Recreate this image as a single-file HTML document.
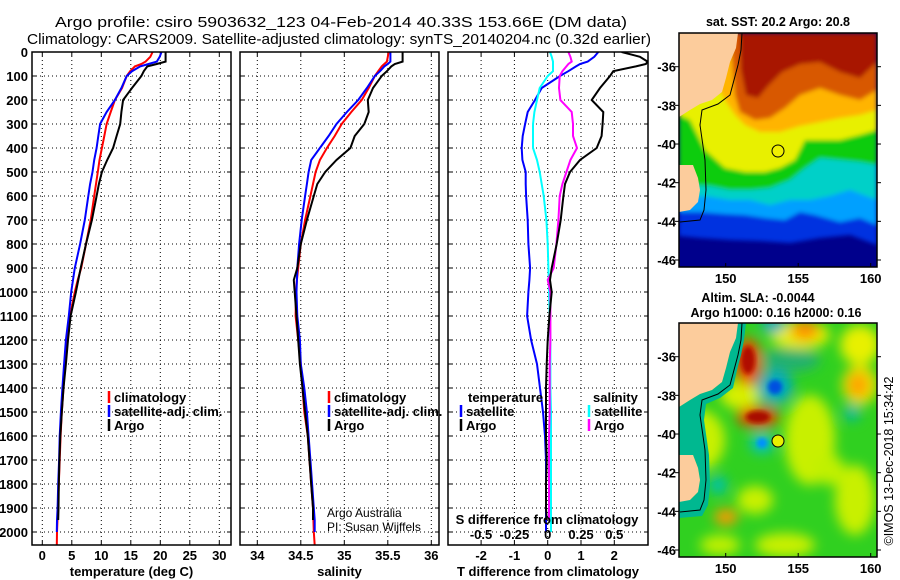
<!DOCTYPE html>
<html><head><meta charset="utf-8"><style>
html,body{margin:0;padding:0;background:#fff;}
svg{display:block;font-family:"Liberation Sans",sans-serif;}
.tk{font-size:13px;font-weight:bold;}
</style></head><body>
<svg id="fig" width="900" height="580" viewBox="0 0 900 580" xmlns="http://www.w3.org/2000/svg">
<defs>
<clipPath id="c1"><rect x="32" y="52" width="199" height="493"/></clipPath>
<clipPath id="c2"><rect x="240" y="52" width="199" height="493"/></clipPath>
<clipPath id="c3"><rect x="448" y="52" width="200" height="493"/></clipPath>
<clipPath id="m1"><rect x="679" y="33" width="198" height="234"/></clipPath>
<clipPath id="m2"><rect x="679" y="323" width="198" height="234"/></clipPath>
<filter id="bl" x="-50%" y="-50%" width="200%" height="200%"><feGaussianBlur stdDeviation="6"/></filter>
<filter id="bl2" x="-20%" y="-20%" width="140%" height="140%"><feGaussianBlur stdDeviation="2"/></filter>
</defs>
<text x="55" y="27" font-size="14.5" textLength="572" lengthAdjust="spacingAndGlyphs">Argo profile: csiro 5903632_123 04-Feb-2014 40.33S 153.66E (DM data)</text>
<text x="27" y="44" font-size="14.5" textLength="624" lengthAdjust="spacingAndGlyphs">Climatology: CARS2009. Satellite-adjusted climatology: synTS_20140204.nc (0.32d earlier)</text>

<!-- Map 1 SST -->
<g>
<text x="778" y="26" font-size="12.5" font-weight="bold" text-anchor="middle">sat. SST: 20.2 Argo: 20.8</text>
<g clip-path="url(#m1)">
<rect x="679" y="33" width="198" height="234" fill="#00008c"/>
<g filter="url(#bl2)">
<polygon fill="#0030e0" points="679,33 877,33 877,245 850,235 820,238 790,243 760,241 730,240 700,238 679,236"/>
<polygon fill="#00a0ff" points="679,33 877,33 877,225 860,218 840,222 815,215 800,212 785,220 765,218 745,215 725,214 700,212 679,212"/>
<polygon fill="#00d0c8" points="679,33 877,33 877,200 850,190 830,196 810,200 790,200 770,205 750,200 730,200 705,196 679,198"/>
<polygon fill="#10cc10" points="679,33 877,33 877,165 860,162 840,160 820,158 805,168 790,180 770,188 750,190 730,190 710,186 690,185 679,180"/>
<polygon fill="#e8f000" points="679,33 877,33 877,130 860,135 840,140 820,140 805,140 795,160 780,168 765,172 745,172 725,168 705,150 690,120 679,115"/>
<polygon fill="#ffb400" points="690,33 877,33 877,110 860,115 840,118 820,122 800,126 780,132 760,132 745,125 735,115 725,100"/>
<polygon fill="#d85800" points="730,33 877,33 877,90 860,100 840,95 820,88 800,95 785,108 770,118 755,120 740,112 735,95"/>
<polygon fill="#a81400" points="740,33 877,33 877,62 860,78 840,72 820,62 800,64 782,72 768,86 758,98 746,95 741,70"/>
</g>
<polygon fill="#fccc9c" points="679,33 738,33 736,48 730,62 726,78 722,92 712,100 700,104 690,110 679,117"/>
<polygon fill="#fccc9c" points="679,165 693,165 698,178 700,190 698,202 690,210 679,212"/>
<polyline fill="none" stroke="#000" stroke-width="1" points="742,33 741,50 738,65 734,80 730,95 718,104 702,110 700,125 705,160 706,190 704,210 700,220 680,222"/>
<circle cx="778" cy="151" r="6" fill="#f0f000" stroke="#000" stroke-width="1"/>
</g>
<rect x="679" y="33" width="198" height="234" fill="none" stroke="#000" stroke-width="1.5"/>
</g>

<!-- Map 2 SLA -->
<g>
<text x="758" y="302" font-size="12.5" font-weight="bold" text-anchor="middle">Altim. SLA: -0.0044</text>
<text x="776" y="317" font-size="12.5" font-weight="bold" text-anchor="middle">Argo h1000: 0.16 h2000: 0.16</text>
<g clip-path="url(#m2)">
<rect x="679" y="323" width="198" height="234" fill="#30d020"/>
<g filter="url(#bl)">
<ellipse cx="800" cy="335" rx="30" ry="14" fill="#e8f000"/>
<ellipse cx="860" cy="345" rx="20" ry="20" fill="#e8f000"/>
<ellipse cx="860" cy="385" rx="18" ry="20" fill="#e8e000"/>
<ellipse cx="810" cy="440" rx="25" ry="45" fill="#c8f000"/>
<ellipse cx="700" cy="440" rx="25" ry="30" fill="#c8f000"/>
<ellipse cx="755" cy="500" rx="18" ry="14" fill="#c8f000"/>
<ellipse cx="855" cy="500" rx="20" ry="35" fill="#c8f000"/>
<ellipse cx="785" cy="545" rx="30" ry="12" fill="#c8f000"/>
<ellipse cx="740" cy="395" rx="20" ry="14" fill="#d8f000"/>
<ellipse cx="830" cy="470" rx="15" ry="15" fill="#c0f000"/>
<ellipse cx="720" cy="545" rx="20" ry="10" fill="#c0f000"/>
<ellipse cx="805" cy="330" rx="14" ry="10" fill="#ff9000"/>
<ellipse cx="858" cy="385" rx="10" ry="12" fill="#ffa000"/>
<ellipse cx="726" cy="517" rx="12" ry="8" fill="#ff9800"/>
<ellipse cx="748" cy="362" rx="14" ry="24" fill="#e85000"/>
<ellipse cx="758" cy="417" rx="22" ry="11" fill="#e05000"/>
<ellipse cx="775" cy="387" rx="18" ry="17" fill="#00a8c0"/>
<ellipse cx="773" cy="325" rx="12" ry="8" fill="#00a8c8"/>
<ellipse cx="762" cy="443" rx="12" ry="10" fill="#00c0c8"/>
<ellipse cx="718" cy="485" rx="9" ry="9" fill="#00c0b0"/>
<ellipse cx="852" cy="413" rx="8" ry="8" fill="#00b8a8"/>
<ellipse cx="790" cy="360" rx="30" ry="12" fill="#20b070"/>
</g>
<ellipse cx="748" cy="360" rx="7" ry="14" fill="#b01000" filter="url(#bl2)"/>
<ellipse cx="758" cy="417" rx="12" ry="6" fill="#a80c00" filter="url(#bl2)"/>
<ellipse cx="775" cy="387" rx="7" ry="7" fill="#0050e0" filter="url(#bl2)"/>
<ellipse cx="762" cy="443" rx="5" ry="5" fill="#0090ff" filter="url(#bl2)"/>
<polygon fill="#00b890" points="736,323 746,323 744,340 741,355 737,370 733,388 720,398 706,404 704,420 709,455 710,485 708,505 702,516 679,518 679,500 690,500 698,492 700,480 698,468 693,455 679,455 679,407 690,400 700,394 712,390 722,382 726,368 730,352"/>
<polygon fill="#fccc9c" points="679,323 738,323 736,338 730,352 726,368 722,382 712,390 700,394 690,400 679,407"/>
<polygon fill="#fccc9c" points="679,455 693,455 698,468 700,480 698,492 690,500 679,502"/>
<polyline fill="none" stroke="#000" stroke-width="1" points="742,323 741,340 738,355 734,370 730,385 718,394 702,400 700,415 705,450 706,480 704,500 700,510 680,512"/>
<circle cx="778" cy="441" r="6" fill="#e8f000" stroke="#000" stroke-width="1"/>
</g>
<rect x="679" y="323" width="198" height="234" fill="none" stroke="#000" stroke-width="1.5"/>
</g>
<text transform="translate(893,461) rotate(-90)" font-size="12.5" text-anchor="middle">©IMOS 13-Dec-2018 15:34:42</text>

<g id="charts"></g>
</svg>
<script>
const depths = [0,20,40,50,60,80,100,150,200,250,300,350,400,450,500,550,600,700,800,900,950,1000,1100,1200,1300,1400,1500,1600,1700,1800,1900,1950,2000,2055];
const tempArgo = [20.9,20.9,20.9,19.4,17.8,17.2,16.8,15.2,13.7,13.4,13.2,12.6,12.0,11.0,10.1,9.6,9.2,8.4,7.4,6.5,6.1,5.7,4.8,4.35,4.0,3.6,3.3,3.05,2.9,2.8,2.75,2.7,null,null];
const tempClim = [18.7,18.3,17.5,16.8,15.7,14.9,14.3,13.5,12.3,11.6,10.9,10.5,10.1,9.7,9.4,9.1,8.8,8.2,7.4,6.6,6.0,5.5,4.7,4.1,3.85,3.6,3.3,3.1,2.95,2.8,2.65,2.58,2.5,2.45];
const tempSat = [20.2,19.9,19.4,18.0,16.6,15.2,14.3,13.4,12.3,10.9,9.8,9.5,9.2,8.8,8.5,8.1,7.8,7.2,6.4,5.5,5.2,4.9,4.5,4.0,3.7,3.4,3.15,2.95,2.85,2.7,2.6,2.5,2.45,null];
const salArgo = [35.67,35.67,35.67,35.58,35.54,35.49,35.43,35.33,35.27,35.28,35.23,35.12,35.07,34.91,34.78,34.69,34.65,34.57,34.50,34.46,34.42,34.43,34.45,34.47,34.49,34.52,34.55,34.58,34.6,34.62,34.64,34.64,null,null];
const salClim = [35.51,35.5,35.49,35.46,35.43,35.39,35.35,35.28,35.2,35.08,34.97,34.89,34.8,34.72,34.67,34.64,34.61,34.55,34.5,34.47,34.455,34.445,34.44,34.47,34.5,34.52,34.54,34.58,34.6,34.62,34.64,34.645,34.65,34.66];
const salSat = [35.53,35.53,35.53,35.5,35.46,35.41,35.35,35.26,35.16,35.03,34.91,34.82,34.72,34.62,34.59,34.57,34.55,34.51,34.48,34.46,34.455,34.45,34.46,34.49,34.5,34.54,34.57,34.59,34.61,34.63,34.65,34.66,34.66,null];
const tDiffArgo = [2.22,2.77,3.0,2.95,2.65,1.97,1.87,1.57,1.32,1.67,1.65,1.62,1.47,0.97,0.67,0.52,0.47,0.39,0.27,0.12,0.07,0.12,0.05,0.0,-0.03,-0.05,-0.05,-0.05,-0.03,-0.05,-0.05,-0.03,null,null];
const tDiffSat = [1.52,1.4,1.2,0.97,0.85,0.62,0.37,-0.18,-0.38,-0.6,-0.68,-0.75,-0.78,-0.76,-0.66,-0.66,-0.65,-0.6,-0.58,-0.53,-0.55,-0.58,-0.62,-0.5,-0.32,-0.23,-0.14,-0.08,-0.05,-0.05,-0.05,-0.05,-0.05,null];
const sDiffSat = [0.017,0.03,0.04,0.04,0.04,0.04,0,-0.06,-0.08,-0.1,-0.11,-0.11,-0.11,-0.08,-0.06,-0.045,-0.03,-0.01,0,0.005,0.008,0.01,0.015,0.02,0.02,0.02,0.025,0.025,0.025,0.025,0.025,0.025,0.025,null];
const sDiffArgo = [0.155,0.17,0.18,0.155,0.14,0.11,0.09,0.085,0.095,0.18,0.19,0.19,0.22,0.17,0.14,0.11,0.09,0.08,0.065,0.045,0.0,0.02,0.02,0.02,0.015,0.015,0.015,0.01,0.01,0.01,0.01,0.01,null,null];
const depthTicks = [0,100,200,300,400,500,600,700,800,900,1000,1100,1200,1300,1400,1500,1600,1700,1800,1900,2000];
const tempTicks = [0,5,10,15,20,25,30];
const salTicks = [34,34.5,35,35.5,36];
const tDiffTicks = [-2,-1,0,1,2];
const sDiffTicks = [-0.5,-0.25,0,0.25,0.5];
const sDiffLabels = ["-0.5","-0.25","0","0.25","0.5"];

const NS = "http://www.w3.org/2000/svg";
const root = document.getElementById('charts');
const yD = d => 52 + d * 0.24;
const xT = t => 42.3 + t * 5.9;
const xS = s => 257.3 + (s - 34) * 87;
const xTd = v => 547.7 + v * 33.3;
const xSd = v => 547.7 + v * 133.3;
function mk(tag, attrs, parent) {
  const e = document.createElementNS(NS, tag);
  for (const k in attrs) e.setAttribute(k, attrs[k]);
  (parent || root).appendChild(e);
  return e;
}
function panel(name, x0, x1, ticks, xf, labels, xlabel, clip, showY) {
  const g = mk('g', {});
  
  
  depthTicks.forEach(d => {
    if (d > 0) {
      const l = mk('line', {x1: x0, x2: x1, y1: yD(d), y2: yD(d), stroke: '#000', 'stroke-width': 1, 'stroke-dasharray': '1,3'}, g);
      
      
    }
    mk('line', {x1: x0, x2: x0 + 4, y1: yD(d), y2: yD(d), stroke: '#000'}, g);
    mk('line', {x1: x1 - 4, x2: x1, y1: yD(d), y2: yD(d), stroke: '#000'}, g);
    if (showY) {
      const t = mk('text', {x: 28, y: yD(d) + 5, 'text-anchor': 'end', class: 'tk'}, g);
      t.textContent = d;
      
      
    }
  });
  ticks.forEach((v, i) => {
    const x = xf(v);
    const l = mk('line', {x1: x, x2: x, y1: 52, y2: 545, stroke: '#000', 'stroke-width': 1, 'stroke-dasharray': '1,3'}, g);
    
    
    mk('line', {x1: x, x2: x, y1: 541, y2: 545, stroke: '#000'}, g);
    mk('line', {x1: x, x2: x, y1: 52, y2: 56, stroke: '#000'}, g);
    const t = mk('text', {x: x, y: 560, 'text-anchor': 'middle', class: 'tk'}, g);
    t.textContent = labels ? labels[i] : v;
    
    
  });
  const xl = mk('text', {x: (x0 + x1) / 2, y: 576, 'text-anchor': 'middle', class: 'tk'}, g);
  xl.textContent = xlabel;
  
  
  const lines = mk('g', {'clip-path': 'url(#' + clip + ')'}, g);
  const fr = mk('rect', {x: x0, y: 52, width: x1 - x0, height: 493, fill: 'none', stroke: '#000', 'stroke-width': 1.5}, g);
  
  
  return lines;
}
function series(parent, vals, xf, color, name) {
  const pts = [];
  vals.forEach((v, i) => { if (v !== null) pts.push(xf(v).toFixed(1) + ',' + yD(depths[i]).toFixed(1)); });
  const p = mk('polyline', {points: pts.join(' '), fill: 'none', stroke: color, 'stroke-width': 2, 'stroke-linejoin': 'miter'}, parent);
  
  
}
function legend(items, x, y) {
  items.forEach((it, i) => {
    const yy = y + i * 14;
    const m = mk('line', {x1: x, x2: x, y1: yy - 11, y2: yy + 1, stroke: it[1], 'stroke-width': 2.5});
    
    
    const t = mk('text', {x: x + 5, y: yy, class: 'tk', 'font-size': 12.5});
    t.textContent = it[0];
    
    
  });
}

const p1 = panel('temperature-panel', 32, 231, tempTicks, xT, null, 'temperature (deg C)', 'c1', true);
series(p1, tempClim, xT, '#ff0000', 'temp-climatology-line');
series(p1, tempSat, xT, '#0000ff', 'temp-satellite-line');
series(p1, tempArgo, xT, '#000000', 'temp-argo-line');
legend([['climatology', '#ff0000'], ['satellite-adj. clim.', '#0000ff'], ['Argo', '#000']], 109, 402);

const p2 = panel('salinity-panel', 240, 439, salTicks, xS, null, 'salinity', 'c2', false);
series(p2, salClim, xS, '#ff0000', 'sal-climatology-line');
series(p2, salSat, xS, '#0000ff', 'sal-satellite-line');
series(p2, salArgo, xS, '#000000', 'sal-argo-line');
legend([['climatology', '#ff0000'], ['satellite-adj. clim.', '#0000ff'], ['Argo', '#000']], 329, 402);
const a1 = mk('text', {x: 327, y: 517, 'font-size': 12});
a1.textContent = 'Argo Australia';


const a2 = mk('text', {x: 327, y: 531, 'font-size': 12});
a2.textContent = 'PI: Susan Wijffels';



const p3 = panel('difference-panel', 448, 648, tDiffTicks, xTd, null, 'T difference from climatology', 'c3', false);
series(p3, tDiffSat, xTd, '#0000ff', 'tdiff-satellite-line');
series(p3, sDiffSat, xSd, '#00ffff', 'sdiff-satellite-line');
series(p3, sDiffArgo, xSd, '#ff00ff', 'sdiff-argo-line');
series(p3, tDiffArgo, xTd, '#000000', 'tdiff-argo-line');
sDiffTicks.forEach((v, i) => {
  const t = mk('text', {x: xSd(v), y: 539, 'text-anchor': 'middle', class: 'tk'});
  t.textContent = sDiffLabels[i];
  
  
});
const st = mk('text', {x: 547, y: 524, 'text-anchor': 'middle', class: 'tk'});
st.textContent = 'S difference from climatology';


const th = mk('text', {x: 468, y: 402, class: 'tk', 'font-size': 12.5});
th.textContent = 'temperature';


const sh = mk('text', {x: 593, y: 402, class: 'tk', 'font-size': 12.5});
sh.textContent = 'salinity';


legend([['satellite', '#0000ff'], ['Argo', '#000']], 461, 416);
legend([['satellite', '#00ffff'], ['Argo', '#ff00ff']], 589, 416);

const lonTicks = [150, 155, 160];
const latTicks = [-36, -38, -40, -42, -44, -46];
[[33, 267], [323, 557]].forEach(([top, bot]) => {
  lonTicks.forEach(l => {
    const x = 725.7 + (l - 150) * 14.5;
    mk('line', {x1: x, x2: x, y1: bot - 4, y2: bot, stroke: '#000'});
    const t = mk('text', {x: x, y: bot + 16, 'text-anchor': 'middle', class: 'tk'});
    t.textContent = l;
    
    
  });
  latTicks.forEach(l => {
    const y = top + 33.7 + (-36 - l) * 19.33;
    mk('line', {x1: 877, x2: 881, y1: y, y2: y, stroke: '#000'});
    mk('line', {x1: 675, x2: 679, y1: y, y2: y, stroke: '#000'});
    const t = mk('text', {x: 676, y: y + 5, 'text-anchor': 'end', class: 'tk'});
    t.textContent = l;
    
    
  });
});
</script>
</body></html>
